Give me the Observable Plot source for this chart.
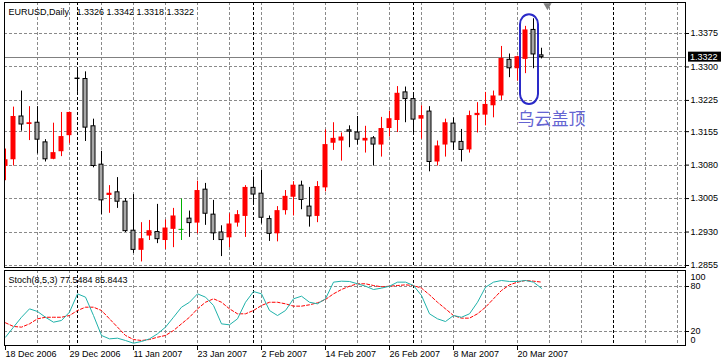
<!DOCTYPE html>
<html><head><meta charset="utf-8">
<script src="https://cdn.jsdelivr.net/npm/d3@7"></script>
<script src="https://cdn.jsdelivr.net/npm/@observablehq/plot@0.6"></script>
<style>
html,body{margin:0;padding:0;background:#fff;}
#wrap{position:relative;width:722px;height:362px;overflow:hidden;background:#fff;}
#wrap svg{position:absolute;left:0;}
</style></head><body><div id="wrap"></div>
<script>
const mainTitle = "EURUSD,Daily\u00a0\u00a0\u00a01.3326 1.3342 1.3318 1.3322";
const stochTitle = "Stoch(8,5,3) 77.5484 85.8443";
const opens = [1.3077,1.3092,1.3189,1.3171,1.3175,1.3131,1.3093,1.3110,1.3146,1.3274,
1.3273,1.3167,1.3081,1.3012,1.3019,1.2998,1.2933,1.2889,1.2921,1.2930,
1.2911,1.2936,1.2936,1.2960,1.2950,1.3025,1.2969,1.2929,1.2917,1.2950,
1.2965,1.3029,1.3016,1.2959,1.2926,1.2978,1.3008,1.3034,1.2987,1.2965,
1.3029,1.3129,1.3134,1.3158,1.3153,1.3134,1.3140,1.3125,1.3162,1.3180,
1.3243,1.3228,1.3183,1.3200,1.3087,1.3125,1.3173,1.3132,1.3114,1.3191,
1.3192,1.3213,1.3235,1.3316,1.3296,1.3317,1.3383,1.3326];
const highs = [1.3116,1.3210,1.3246,1.3211,1.3211,1.3137,1.3174,1.3198,1.3199,1.3294,
1.3289,1.3183,1.3111,1.3034,1.3052,1.3005,1.3014,1.2951,1.2956,1.2992,
1.2957,1.2983,1.3004,1.2977,1.3044,1.3039,1.3001,1.2944,1.2971,1.2978,
1.3034,1.3053,1.3068,1.2966,1.2987,1.3023,1.3043,1.3044,1.3030,1.3043,
1.3159,1.3175,1.3152,1.3168,1.3189,1.3167,1.3144,1.3187,1.3201,1.3256,
1.3255,1.3237,1.3213,1.3211,1.3134,1.3183,1.3186,1.3160,1.3201,1.3220,
1.3243,1.3246,1.3346,1.3329,1.3324,1.3391,1.3408,1.3342];
const lows = [1.3045,1.3078,1.3156,1.3135,1.3105,1.3087,1.3092,1.3099,1.3128,1.3243,
1.3133,1.3074,1.2969,1.2972,1.2983,1.2929,1.2882,1.2863,1.2911,1.2904,
1.2891,1.2895,1.2911,1.2918,1.2926,1.2945,1.2911,1.2875,1.2895,1.2941,
1.2918,1.2994,1.2948,1.2909,1.2908,1.2968,1.2966,1.2980,1.2941,1.2951,
1.3020,1.3113,1.3089,1.3119,1.3125,1.3107,1.3078,1.3098,1.3143,1.3153,
1.3175,1.3153,1.3138,1.3065,1.3078,1.3098,1.3113,1.3087,1.3107,1.3152,
1.3168,1.3186,1.3225,1.3276,1.3268,1.3285,1.3296,1.3318];
const closes = [1.3092,1.3189,1.3171,1.3175,1.3137,1.3093,1.3108,1.3144,1.3198,1.3273,
1.3164,1.3078,1.3001,1.3017,1.2998,1.2932,1.2890,1.2915,1.2933,1.2914,
1.2939,1.2966,1.2936,1.2950,1.3023,1.2971,1.2927,1.2912,1.2948,1.2969,
1.3030,1.3014,1.2962,1.2926,1.2978,1.3010,1.3035,1.3002,1.2965,1.3032,
1.3126,1.3140,1.3143,1.3155,1.3137,1.3140,1.3126,1.3162,1.3184,1.3241,
1.3228,1.3182,1.3191,1.3087,1.3123,1.3175,1.3131,1.3114,1.3191,1.3196,
1.3216,1.3235,1.3319,1.3297,1.3323,1.3383,1.3328,1.3322];
const stochK = [12.4,25.8,39,50.2,46.7,39,32.4,34.7,45.8,70.2,
65.8,41.3,14.7,10.2,11.1,8,4.4,6.7,10.2,16.9,
25.8,39,52.4,59,70.2,65.8,54.7,30.2,28.9,36.9,
59,73.3,70.2,48,41.3,48,63.6,67.1,59,56.9,
63.6,85.8,87.1,86.7,83.6,80.4,76,77.8,80.4,85.8,
85.8,81.3,68,43.6,36.9,33.3,41.3,39,43.6,59,
79,85.8,88,86.7,86.7,88,85.8,77.55];
const stochD = [31.6,26.7,25.8,30.2,36.9,39,39,39,41.3,48,
52.4,52.4,48,36.9,25.8,14.7,9.3,8,9.3,12.4,
14.7,21.3,30.2,39,50.2,59,63.6,59,50.2,43.6,
43.6,48,54.7,59,59,56.9,53.8,53.8,55.6,58.2,
62.7,70.2,76,80.4,83.6,83.6,81.3,79.6,80.4,81.3,
82.2,81.3,77.8,68.9,59,50.2,41.3,37.8,37.8,43.6,
52.4,63.6,74.7,82.2,85.8,88,87.1,85.84];
const dateLabels = ["18 Dec 2006","29 Dec 2006","11 Jan 2007","23 Jan 2007","2 Feb 2007","14 Feb 2007","26 Feb 2007","8 Mar 2007","20 Mar 2007"];
const dateLabelBars = [0,8,16,24,32,40,48,56,64];
const gridBars = [4,8,12,16,20,24,28,32,36,40,44,48,52,56,60,64,68,72,80,84];
const separatorBars = [9,31,51,76];
const priceTicks = [1.3375,1.3300,1.3225,1.3155,1.3080,1.3005,1.2930,1.2855];
const stochLevels = [20,80];
const stochEnds = [100,0];
const shiftBar = [67.75];
const annotBars = [65,66];
const annotPrices = [1.3417,1.3216];
const annotLabel = "乌云盖顶";
const annotTextBar = 64;
const annotTextPrice = 1.3182;

const lastClose = closes[closes.length-1];
const bars = opens.map((o,i)=>({i, o, h: highs[i], l: lows[i], c: closes[i]}));
const up = bars.filter(d=>d.c>d.o), down = bars.filter(d=>d.c<d.o), doji = bars.filter(d=>d.c===d.o);
const gridColor = "#8a8a8a";
const font = "Liberation Sans, Arial, sans-serif";
const xs = {type:"linear", domain:[0,85], range:[5,685], axis:null};
const baseStyle = {fontFamily: font, fontSize: "9px", background: "transparent", color: "black", overflow: "visible"};

// price tag for the last close, positioned through the plot's y scale
function lastPriceTag(index, scales, values, dims) {
  const g = d3.create("svg:g");
  const y = scales.y(lastClose);
  const x = dims.width - dims.marginRight;
  g.append("rect").attr("x", x + 3).attr("y", y - 5).attr("width", 33).attr("height", 10).attr("fill", "black");
  g.append("text").attr("x", x + 5).attr("y", y).attr("dy", "0.34em").attr("fill", "white")
    .attr("text-anchor", "start")
    .attr("font-family", font).attr("font-size", 9).text(d3.format(".4f")(lastClose));
  return g.node();
}

const main = Plot.plot({
  width: 722, height: 270,
  marginTop: 2, marginBottom: 3, marginLeft: 4, marginRight: 37,
  style: baseStyle,
  x: xs,
  y: {domain:[1.2855,1.3375], range:[265,33], axis:null},
  marks: [
    Plot.ruleY(priceTicks, {stroke: gridColor, strokeDasharray: "3,2", shapeRendering: "crispEdges"}),
    Plot.ruleX(gridBars, {stroke: gridColor, strokeDasharray: "3,2"}),
    Plot.ruleX(separatorBars, {stroke: "black", strokeDasharray: "3,2"}),
    Plot.ruleY([lastClose], {stroke: "#808080", shapeRendering: "crispEdges"}),
    Plot.ruleX(up, {x:"i", y1:"l", y2:"h", stroke:"#ff0000", clip:true}),
    Plot.ruleX(down, {x:"i", y1:"l", y2:"h", stroke:"black", clip:true}),
    Plot.ruleX(doji, {x:"i", y1:"l", y2:"h", stroke:"#00b000", clip:true}),
    Plot.ruleY(doji, {y:"o", x1:d=>d.i-0.3125, x2:d=>d.i+0.3125, stroke:"#00b000", clip:true}),
    Plot.rect(up, {x1:d=>d.i-0.3125, x2:d=>d.i+0.3125, y1:"o", y2:"c", fill:"#ff0000", clip:true}),
    Plot.rect(down, {x1:d=>d.i-0.25, x2:d=>d.i+0.25, y1:"o", y2:"c", fill:"#a8a8a8", stroke:"black", clip:true}),
    Plot.rect([0], {x1:()=>annotBars[0], x2:()=>annotBars[1], y1:()=>annotPrices[0], y2:()=>annotPrices[1],
      insetLeft:-5, insetRight:-5, rx:10, ry:10, fill:"none", stroke:"#2a2ac8", strokeWidth:2}),
    Plot.text([annotLabel], {x:()=>annotTextBar, y:()=>annotTextPrice, text:d=>d, textAnchor:"start", lineAnchor:"middle",
      fill:"#6464d2", fontSize:17, fontFamily:"Noto Sans CJK SC"}),
    Plot.dot(shiftBar, {x:d=>d, frameAnchor:"top", dy:3, symbol:"triangle", rotate:180, r:3, fill:"#808080", stroke:"none"}),
    Plot.frame({stroke:"black", shapeRendering:"crispEdges"}),
    Plot.axisY({anchor:"right", ticks: priceTicks, tickFormat: d3.format(".4f"), tickSize:3, tickPadding:2, label:null}),
    lastPriceTag,
    Plot.text([mainTitle], {frameAnchor:"top-left", dx:4, dy:6, lineAnchor:"top", textAnchor:"start", text:d=>d})
  ]
});

const stoch = Plot.plot({
  width: 722, height: 94,
  marginTop: 2, marginBottom: 17, marginLeft: 4, marginRight: 37,
  style: baseStyle,
  x: xs,
  y: {domain:[0,100], range:[78,3], axis:null},
  marks: [
    Plot.ruleY(stochLevels, {stroke: gridColor, strokeDasharray: "3,2", shapeRendering: "crispEdges"}),
    Plot.ruleX(gridBars, {stroke: gridColor, strokeDasharray: "3,2"}),
    Plot.ruleX(separatorBars, {stroke: "black", strokeDasharray: "3,2"}),
    Plot.line(stochD, {x:(d,i)=>i, y:d=>d, stroke:"#ff0000", strokeDasharray:"3,2", strokeWidth:1}),
    Plot.line(stochK, {x:(d,i)=>i, y:d=>d, stroke:"#20b2aa", strokeWidth:1}),
    Plot.frame({stroke:"black", shapeRendering:"crispEdges"}),
    Plot.axisY({anchor:"right", ticks: stochLevels, tickSize:3, tickPadding:2, label:null}),
    Plot.text([stochEnds[0]], {y:d=>d, text:d=>String(d), frameAnchor:"right", dx:5, dy:6, textAnchor:"start"}),
    Plot.text([stochEnds[1]], {y:d=>d, text:d=>String(d), frameAnchor:"right", dx:5, dy:-6, textAnchor:"start"}),
    Plot.axisX({anchor:"bottom", ticks: dateLabelBars, tickFormat: d=>dateLabels[dateLabelBars.indexOf(d)], tickSize:5, tickPadding:0, textAnchor:"start", label:null}),
    Plot.text([stochTitle], {frameAnchor:"top-left", dx:4, dy:6, lineAnchor:"top", textAnchor:"start", text:d=>d})
  ]
});

const wrap = document.getElementById("wrap");
main.style.top = "0px";
stoch.style.top = "268px";
wrap.appendChild(main);
wrap.appendChild(stoch);
</script></body></html>
